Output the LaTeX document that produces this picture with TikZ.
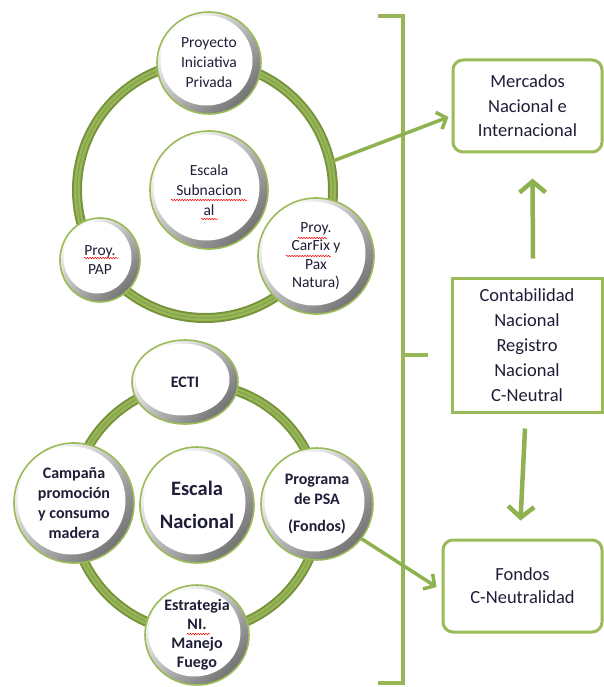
\documentclass[tikz,border=0pt]{standalone}
\usepackage{fontspec}
\setmainfont{Carlito}
\usetikzlibrary{arrows.meta,calc,shapes.geometric,decorations.pathmorphing}
\definecolor{gre}{HTML}{9BBB59}
\definecolor{gred}{HTML}{76933C}
\definecolor{grearr}{HTML}{8DB24F}
\definecolor{txt}{HTML}{1E1E38}

\newcommand{\mybub}[7]{%
  \shade[shading=axis, top color=white, bottom color=black!55, shading angle=45]
     (#2,#3) ellipse [x radius=#4pt, y radius=#5pt];
  \fill[white] (#2-2.5,#3-2.5) ellipse [x radius=#4pt-6pt, y radius=#5pt-6pt];
  \draw[gre, line width=1.6pt] (#2,#3) ellipse [x radius=#4pt, y radius=#5pt];
  \node[bubtxt, #6, minimum width=2*#4pt, minimum height=2*#5pt] (#1) at (#2,#3) {#7};
}

\tikzset{
  bubtxt/.style={ellipse, inner sep=0pt, align=center, text=txt},
  topf/.style={font=\fontsize{15.5}{20}\selectfont},
  topfb/.style={font=\fontsize{15.5}{18.5}\selectfont},
  botf/.style={font=\fontsize{16}{20}\selectfont\bfseries},
  ringstyle/.style={line width=10pt, gred},
  ringmid/.style={line width=6pt, gre!90!gred},
  ringline/.style={line width=1pt, gred!90},
  boxr/.style={draw=gre, line width=3pt, fill=white, align=center, text=txt,
     font=\fontsize{18.5}{24.5}\selectfont},
  brk/.style={gre!90!gred, line width=3.5pt},
  brkshadow/.style={black!25, line width=3.5pt},
  bigarrow/.style={grearr, line width=4.5pt, -{Straight Barb[length=11pt,width=26pt]}},
  diagarrow/.style={grearr, line width=3.5pt, -{Straight Barb[length=8pt,width=18pt]}},
  spell/.style={red, line width=0.5pt, decorate, decoration={snake, amplitude=0.7pt, segment length=2.6pt}},
}

\begin{document}
\begin{tikzpicture}[x=1pt, y=-1pt]
\useasboundingbox (0,0) rectangle (603,687);
\fill[white] (0,0) rectangle (603,687);

% ----- rings
\draw[ringstyle] (205,190) circle (128pt);
\draw[ringmid] (205,190) circle (128pt);
\draw[ringline] (205,190) circle (128pt);
\draw[ringstyle] (196,508) circle (124pt);
\draw[ringmid] (196,508) circle (124pt);
\draw[ringline] (196,508) circle (124pt);

% ----- top group
\mybub{pip}{209}{63}{52}{51}{topf}{Proyecto\\Iniciativa\\Privada}
\mybub{esub}{209}{190}{59}{59}{topf}{Escala\\Subnacion\\al}
\mybub{pap}{100}{260}{40}{42}{topfb}{Proy.\\PAP}
\mybub{carfix}{316}{256}{58}{58}{topfb}{Proy.\\CarFix y\\Pax\\Natura)}

% ----- bottom group
\mybub{ecti}{185}{382}{53}{42}{botf}{ECTI}
\mybub{camp}{74}{503}{60}{60}{botf}{Campaña\\promoción\\y consumo\\madera}
\mybub{enac}{197}{505}{57}{58}{font=\fontsize{20.5}{33}\selectfont\bfseries}{Escala\\Nacional}
\mybub{psa}{317}{504}{56}{56}{botf}{Programa\\de PSA\\[7pt](Fondos)}
\mybub{estr}{197}{635}{52}{50}{font=\fontsize{16}{19}\selectfont\bfseries}{Estrategia\\NI.\\Manejo\\Fuego}

% ----- spell-check marks
\draw[spell] (171,200) -- (247,200);
\draw[spell] (201,219) -- (218,219);
\draw[spell] (298,238) -- (327,238);
\draw[spell] (286,256) -- (331,256);
\draw[spell] (84,258) -- (118,258);
\draw[spell] (187,634) -- (210,634);

% ----- bracket
\coordinate (bt1) at (378,16);
\coordinate (bt2) at (403,16);
\coordinate (bb2) at (403,683);
\coordinate (bb1) at (378,683);
\coordinate (bm1) at (403,355);
\coordinate (bm2) at (428,355);
\draw[brkshadow, shift={(1.5,1.5)}] (bt1) -- (bt2) -- (bb2) -- (bb1);
\draw[brkshadow, shift={(1.5,1.5)}] (bm1) -- (bm2);
\draw[brk] (bt1) -- (bt2) -- (bb2) -- (bb1);
\draw[brk] (bm1) -- (bm2);

% ----- right boxes
\node[boxr, rounded corners=10pt, minimum width=149pt, minimum height=92pt] (merc) at (527.5,106)
  {Mercados\\Nacional e\\Internacional};
\node[boxr, minimum width=150pt, minimum height=134pt, font=\fontsize{18.5}{25}\selectfont] (cont) at (527,345)
  {Contabilidad\\Nacional\\Registro\\Nacional\\C-Neutral};
\node[boxr, rounded corners=10pt, minimum width=159pt, minimum height=92pt, font=\fontsize{18.5}{23}\selectfont] (fond) at (522.5,586)
  {Fondos\\C-Neutralidad};

% ----- arrows
\coordinate (r1e) at (333,161);
\draw[diagarrow] (r1e) -- ([shift={(-3,11)}]merc.west);
\draw[diagarrow] (psa.-38) -- ([shift={(-5,1)}]fond.west);
\draw[bigarrow] ([shift={(6,-18)}]cont.north) -- ([shift={(5,25)}]merc.south);
\draw[bigarrow] ([shift={(-2,15)}]cont.south) -- ([shift={(-2,-18)}]fond.north);
\end{tikzpicture}
\end{document}
